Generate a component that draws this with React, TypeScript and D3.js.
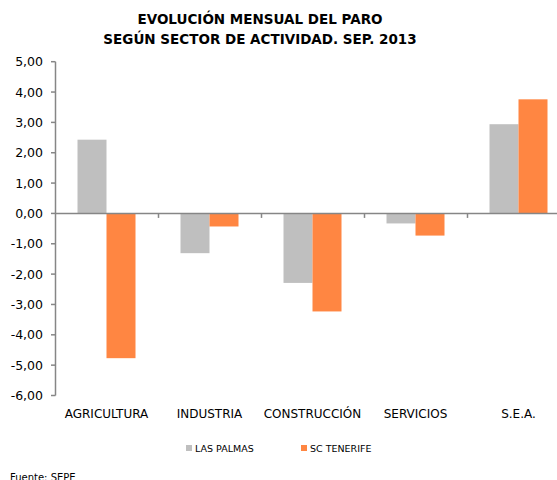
import { useEffect, useRef } from 'react'
import * as d3 from 'd3'

const categories = ['AGRICULTURA', 'INDUSTRIA', 'CONSTRUCCIÓN', 'SERVICIOS', 'S.E.A.']
const lasPalmas = [2.43, -1.31, -2.29, -0.33, 2.94]
const scTenerife = [-4.77, -0.43, -3.23, -0.73, 3.76]
const seriesNames = ['LAS PALMAS', 'SC TENERIFE']
const seriesColors = ['#BFBFBF', '#FF8642']
const yTicks = [5, 4, 3, 2, 1, 0, -1, -2, -3, -4, -5, -6]

export default function App() {
  const ref = useRef<SVGSVGElement>(null)

  useEffect(() => {
    const width = 557
    const svg = d3.select(ref.current)
    svg.selectAll('*').remove()

    const font = 'DejaVu Sans, Verdana, sans-serif'
    const axisColor = '#868686'

    const x = d3.scaleBand().domain(categories).range([55, 570])
    const y = d3.scaleLinear().domain([-6, 5]).range([395.5, 61.7])
    // bars take a bit more than half of each category slot
    const inner = d3.scaleBand().domain(seriesNames).range([22.5, x.bandwidth() - 22.5])

    // title
    const title = svg.append('text')
      .attr('text-anchor', 'middle')
      .attr('font-family', font).attr('font-weight', 'bold').attr('font-size', 13.5)
      .attr('fill', '#000')
    title.append('tspan').attr('x', 260).attr('y', 24).text('EVOLUCIÓN MENSUAL DEL PARO')
    title.append('tspan').attr('x', 260).attr('y', 44).text('SEGÚN SECTOR DE ACTIVIDAD. SEP. 2013')

    // bars
    const data = [lasPalmas, scTenerife]
    data.forEach((vals, si) => {
      svg.append('g').selectAll('rect')
        .data(vals)
        .enter()
        .append('rect')
        .attr('x', (d, i) => (x(categories[i]) as number) + (inner(seriesNames[si]) as number))
        .attr('width', inner.bandwidth())
        .attr('y', d => y(Math.max(0, d)))
        .attr('height', d => Math.abs(y(d) - y(0)))
        .attr('fill', seriesColors[si])
    })

    // y axis
    const yAxis = svg.append('g')
    yAxis.append('line')
      .attr('x1', 55.5).attr('x2', 55.5).attr('y1', y(5)).attr('y2', y(-6))
      .attr('stroke', axisColor).attr('stroke-width', 1.5)
    yAxis.selectAll('.tick')
      .data(yTicks)
      .enter()
      .append('line')
      .attr('x1', 51).attr('x2', 55.5)
      .attr('y1', d => y(d)).attr('y2', d => y(d))
      .attr('stroke', axisColor).attr('stroke-width', 1.5)
    yAxis.selectAll('text')
      .data(yTicks)
      .enter()
      .append('text')
      .attr('x', 43).attr('y', d => y(d) + 4.5)
      .attr('text-anchor', 'end')
      .attr('font-family', font).attr('font-size', 12.5).attr('fill', '#000')
      .text(d => d3.format('.2f')(d).replace('.', ',').replace('\u2212', '-'))

    // zero line
    svg.append('line')
      .attr('x1', 55).attr('x2', width).attr('y1', y(0)).attr('y2', y(0))
      .attr('stroke', axisColor).attr('stroke-width', 1.5)
    svg.append('g').selectAll('line')
      .data(categories.slice(1))
      .enter()
      .append('line')
      .attr('x1', d => (x(d) as number) + 0.5).attr('x2', d => (x(d) as number) + 0.5)
      .attr('y1', y(0)).attr('y2', y(0) + 4.5)
      .attr('stroke', axisColor).attr('stroke-width', 1.5)

    // category labels
    svg.append('g').selectAll('text')
      .data(categories)
      .enter()
      .append('text')
      .attr('x', d => (x(d) as number) + x.bandwidth() / 2)
      .attr('y', 418)
      .attr('text-anchor', 'middle')
      .attr('font-family', font).attr('font-size', 12).attr('fill', '#000')
      .text(d => d)

    // legend
    const legendX = [186, 301]
    seriesNames.forEach((name, i) => {
      svg.append('rect')
        .attr('x', legendX[i]).attr('y', 445).attr('width', 6).attr('height', 6)
        .attr('fill', seriesColors[i])
      svg.append('text')
        .attr('x', legendX[i] + 9).attr('y', 452)
        .attr('font-family', font).attr('font-size', 9.5).attr('fill', '#000')
        .text(name)
    })

    svg.append('text')
      .attr('x', 10).attr('y', 481)
      .attr('font-family', font).attr('font-size', 10).attr('fill', '#000')
      .text('Fuente: SEPE')
  }, [])

  return (
    <div style={{ position: 'absolute', left: 0, top: 0 }}>
      <svg ref={ref} width={557} height={480} style={{ display: 'block', background: '#fff' }} />
    </div>
  )
}
